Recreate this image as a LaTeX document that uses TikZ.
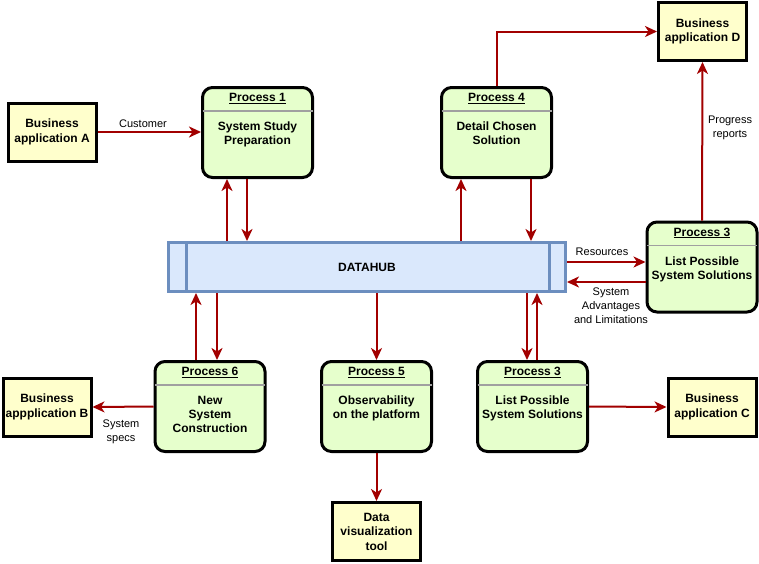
\documentclass[tikz,border=0pt]{standalone}
\usepackage{fontspec}
\setmainfont{Liberation Sans}
\usetikzlibrary{arrows.meta}

\definecolor{procfill}{HTML}{E6FFCC}
\definecolor{extfill}{HTML}{FFFFCC}
\definecolor{hubfill}{HTML}{DAE8FC}
\definecolor{hubline}{HTML}{6C8EBF}
\definecolor{flowred}{HTML}{A20000}
\definecolor{sepgray}{HTML}{A0A0A0}

\tikzset{
  proc/.style={draw=black, line width=3pt, rounded corners=10pt, fill=procfill,
    minimum width=110pt, minimum height=90pt, inner sep=0pt},
  ext/.style={draw=black, line width=3pt, fill=extfill,
    minimum width=88pt, minimum height=58pt, inner sep=0pt,
    font=\bfseries\fontsize{12}{14.5}\selectfont, align=center},
  hub/.style={draw=hubline, line width=3pt, fill=hubfill,
    minimum width=397pt, minimum height=49pt, inner sep=0pt,
    font=\bfseries\fontsize{12}{14}\selectfont},
  ptitle/.style={font=\bfseries\fontsize{12}{14}\selectfont, inner sep=0pt},
  pbody/.style={font=\bfseries\fontsize{12}{14}\selectfont, align=center, inner sep=0pt},
  sepline/.style={draw=sepgray, line width=1.2pt},
  flow/.style={draw=flowred, line width=2pt,
    -{Stealth[length=12pt, width=11pt, inset=3.5pt]}},
  lbl/.style={font=\fontsize{11}{14}\selectfont, align=center, inner sep=0pt},
}

% process box: name, centre x, centre y, title, body
\newcommand\procbox[5]{%
  \node[proc] (#1) at (#2,#3) {};
  \draw[sepline] ([xshift=1.5pt,yshift=-25pt]#1.north west) -- ([xshift=-1.5pt,yshift=-25pt]#1.north east);
  \node[ptitle] (#1t) at ([yshift=-12.5pt]#1.north) {\underline{#4}};
  \node[pbody, anchor=north] (#1b) at ([yshift=-36pt]#1.north) {#5};
}

\begin{document}
\begin{tikzpicture}[x=1pt, y=-1pt]
  \useasboundingbox[fill=white] (0,0) rectangle (759,563);

  % external entities
  \node[ext] (bizA) at (52,132) {Business\\application A};
  \node[ext] (bizB) at (47,407) {Business\\appplication B};
  \node[ext] (bizC) at (712,407) {Business\\application C};
  \node[ext] (bizD) at (702.5,31.5) {Business\\application D};
  \node[ext] (viz) at (376.5,531.5) {Data\\visualization\\tool};

  % data store
  \node[hub] (hub) at (367,267) {DATAHUB};
  \draw[draw=hubline, line width=3pt] ([xshift=19pt]hub.north west) -- ([xshift=19pt]hub.south west);
  \draw[draw=hubline, line width=3pt] ([xshift=-18pt]hub.north east) -- ([xshift=-18pt]hub.south east);

  % processes
  \procbox{pA}{257.5}{132.5}{Process 1}{System Study\\Preparation}
  \procbox{pD}{496.5}{132.5}{Process 4}{Detail Chosen\\Solution}
  \procbox{pR}{702}{267}{Process 3}{List Possible\\System Solutions}
  \procbox{pS}{210}{406.5}{Process 6}{New\\System\\Construction}
  \procbox{pO}{376.5}{406.5}{Process 5}{Observability\\on the platform}
  \procbox{pL}{532.5}{406.5}{Process 3}{List Possible\\System Solutions}

  % columns and rows used by the parallel flows
  \coordinate (c196) at (196,0);
  \coordinate (c217) at (217,0);
  \coordinate (c227) at (227,0);
  \coordinate (c247) at (247,0);
  \coordinate (c461) at (461,0);
  \coordinate (c531) at (531,0);
  \coordinate (c527) at (527,0);
  \coordinate (c537) at (537,0);
  \coordinate (r262) at (0,262);
  \coordinate (r282) at (0,282);

  % flows
  \draw[flow] (bizA.east) -- (bizA.east -| pA.west);
  \draw[flow] (hub.north -| c227) -- (pA.south -| c227);
  \draw[flow] (pA.south -| c247) -- (hub.north -| c247);
  \draw[flow] (hub.north -| c461) -- (pD.south -| c461);
  \draw[flow] (pD.south -| c531) -- (hub.north -| c531);
  \draw[flow] (pD.north) |- (bizD.west);
  \draw[flow] (pR.north) -- (bizD.south);
  \draw[flow] (hub.east |- r262) -- (pR.west |- r262);
  \draw[flow] (pR.west |- r282) -- (hub.east |- r282);
  \draw[flow] (pS.north -| c196) -- (hub.south -| c196);
  \draw[flow] (hub.south -| c217) -- (pS.north -| c217);
  \draw[flow] (hub.south -| pO.north) -- (pO.north);
  \draw[flow] (hub.south -| c527) -- (pL.north -| c527);
  \draw[flow] (pL.north -| c537) -- (hub.south -| c537);
  \draw[flow] (pS.west) -- (bizB.east);
  \draw[flow] (pO.south) -- (viz.north);
  \draw[flow] (pL.east) -- (bizC.west);

  % flow labels
  \node[lbl] (lcust) at (143,124) {Customer};
  \node[lbl] (lprog) at (730,128) {Progress\\reports};
  \node[lbl] (lres) at (602,251.5) {Resources};
  \node[lbl] (ladv) at (611,305.5) {System\\Advantages\\and Limitations};
  \node[lbl] (lspec) at (121,431.5) {System\\specs};
\end{tikzpicture}
\end{document}
